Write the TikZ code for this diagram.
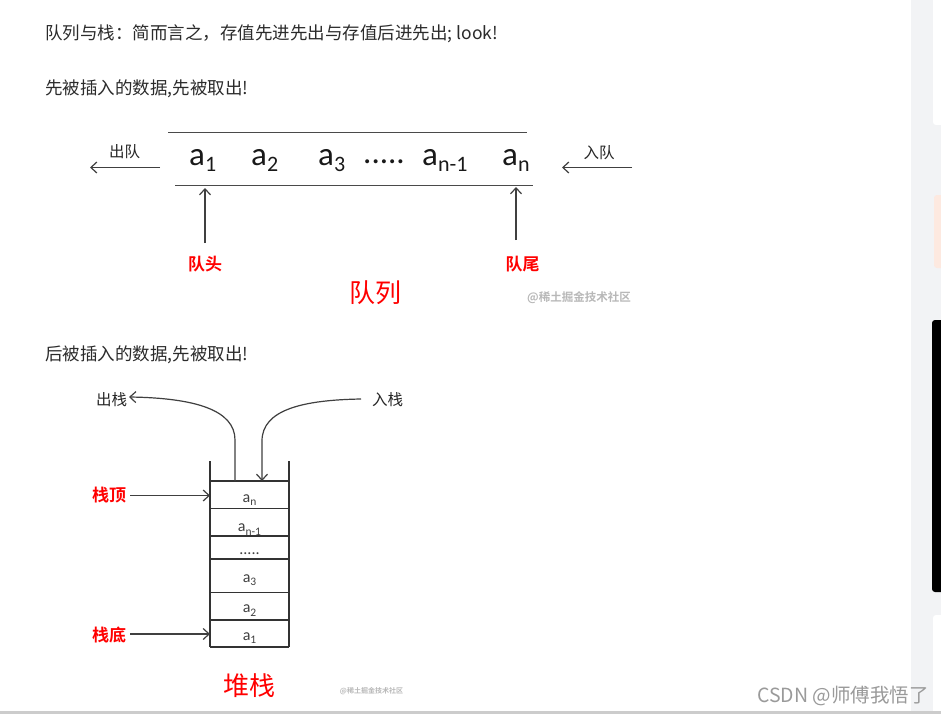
\documentclass[tikz,border=0pt]{standalone}
\usepackage{fontspec}
\usetikzlibrary{arrows.meta}
\newfontfamily\cjk[BoldFont={Noto Sans CJK SC Bold}]{Noto Sans CJK SC}
\newfontfamily\calf{Carlito}
\definecolor{txt}{HTML}{2B2B2B}
\definecolor{ln}{HTML}{4A4A4A}
\definecolor{strip}{HTML}{F2F3F5}
\definecolor{pinkbox}{HTML}{FDE9E0}
\definecolor{wm}{HTML}{B8B8B8}
\definecolor{csdn}{HTML}{9A9A9A}
\newcommand\qsub[1]{\raisebox{-6pt}{\fontsize{22}{22}\selectfont #1}}
\newcommand\ssub[1]{\raisebox{-3.5pt}{\fontsize{11.5}{11.5}\selectfont #1}}
\tikzset{
  hdr/.style={anchor=base west, inner sep=0pt, text=txt, font=\cjk\fontsize{17.5}{20}\selectfont},
  lbl/.style={inner sep=0pt, text=black!85, font=\cjk\fontsize{15.5}{18}\selectfont},
  redlbl/.style={inner sep=0pt, text=red, font=\cjk\bfseries\fontsize{17}{20}\selectfont},
  bigred/.style={inner sep=0pt, text=red, font=\cjk\fontsize{26}{30}\selectfont},
  qel/.style={anchor=base west, inner sep=0pt, text=black!90, font=\calf\fontsize{33}{36}\selectfont},
  sel/.style={anchor=base, inner sep=0pt, text=black!75, font=\calf\fontsize{16}{18}\selectfont},
  wmark/.style={inner sep=0pt, text=wm, font=\cjk\bfseries},
  qline/.style={draw=ln, line width=1.4pt},
  sline/.style={draw=black!80, line width=1.2pt},
  arr/.style={draw=black!75, line width=1.2pt, -{Straight Barb[length=6pt,width=11pt]}},
}
\begin{document}
\begin{tikzpicture}[x=1pt,y=-1pt]
\useasboundingbox (0,0) rectangle (941,714);
\fill[white] (0,0) rectangle (941,714);
% right strip
\fill[strip] (911,0) rectangle (941,714);
\fill[white, rounded corners=3pt] (933,-5) rectangle (945,125);
\fill[pinkbox, rounded corners=3pt] (934,195) rectangle (945,268);
\fill[black, rounded corners=3pt] (932,320) rectangle (945,592);
\fill[white, rounded corners=3pt] (933,615) rectangle (945,720);
\fill[black!20] (0,711) rectangle (941,714);

% headers
\node[hdr] (h1) at (45,39.5) {队列与栈：简而言之，存值先进先出与存值后进先出; look!};
\node[hdr] (h2) at (45,95) {先被插入的数据,先被取出!};
\node[hdr] (h3) at (45,360) {后被插入的数据,先被取出!};

% ---------------- queue ----------------
\coordinate (qt1) at (168,132.5);
\coordinate (qt2) at (527,132.5);
\coordinate (qb1) at (175,185.5);
\coordinate (qb2) at (533,185.5);
\draw[qline] (qt1) -- (qt2);
\draw[qline] (qb1) -- (qb2);

\node[qel] (e1) at (189,165) {a\qsub{1}};
\node[qel] (e2) at (251,165) {a\qsub{2}};
\node[qel] (e3) at (318,165) {a\qsub{3}};
\node[qel] (ed) at (363,164) {.....};
\node[qel] (en1) at (422,165) {a\qsub{n-1}};
\node[qel] (en) at (502,165) {a\qsub{n}};

\node[lbl] (deq) at (124.5,152) {出队};
\node[lbl] (enq) at (599,153) {入队};
\coordinate (deqs) at (160,167.5);
\coordinate (deqe) at (90,167.5);
\coordinate (enqs) at (632,167.5);
\coordinate (enqe) at (562,167.5);
\draw[arr] (deqs) -- (deqe);
\draw[arr] (enqs) -- (enqe);

\node[redlbl] (head) at (205,264.5) {队头};
\node[redlbl] (tail) at (522.5,264.5) {队尾};
\coordinate (hs) at (205,243);
\coordinate (he) at (205,188);
\coordinate (ts) at (516,240);
\coordinate (te) at (516,187);
\draw[arr] (hs) -- (he);
\draw[arr] (ts) -- (te);

\node[bigred] (qtitle) at (375,293) {队列};
\node[wmark, font=\cjk\bfseries\fontsize{11.5}{13}\selectfont] (wm1) at (579,297.5) {@稀土掘金技术社区};

% ---------------- stack ----------------
\coordinate (wl1) at (210,461);
\coordinate (wl2) at (210,647);
\coordinate (wr1) at (289,461);
\coordinate (wr2) at (289,647);
\draw[sline] (wl1) -- (wl2);
\draw[sline] (wr1) -- (wr2);
\foreach \yy in {481,508.5,536,559,592.5,620,647}{
  \draw[sline] (210,\yy) -- (289,\yy);
}
\node[sel] (sn) at (249.5,502) {a\ssub{n}};
\node[sel] (sn1) at (249.5,531.5) {a\ssub{n-1}};
\node[sel] (sd) at (249.5,554) {.....};
\node[sel] (s3) at (249.5,582) {a\ssub{3}};
\node[sel] (s2) at (249.5,612.5) {a\ssub{2}};
\node[sel] (s1) at (249.5,640) {a\ssub{1}};

\node[lbl] (pop) at (111.5,400) {出栈};
\node[lbl] (push) at (387.5,400) {入栈};
\coordinate (pops) at (235,481);
\coordinate (popm) at (235,440);
\coordinate (pope) at (129,397);
\coordinate (pushs) at (361,399);
\coordinate (pushm) at (262,441);
\coordinate (pushe) at (262,481);
\draw[arr] (pops) -- (popm) .. controls (235,410) and (195,398) .. (pope);
\draw[arr] (pushs) .. controls (302,400) and (262,410) .. (pushm) -- (pushe);

\node[redlbl] (top) at (109,495) {栈顶};
\node[redlbl] (bot) at (109,635) {栈底};
\coordinate (tops) at (130,495.5);
\coordinate (tope) at (210,495.5);
\coordinate (bots) at (130,634);
\coordinate (bote) at (210,634);
\draw[arr] (tops) -- (tope);
\draw[arr] (bots) -- (bote);

\node[bigred] (stitle) at (249,686) {堆栈};
\node[wmark, font=\cjk\bfseries\fontsize{7}{8}\selectfont] (wm2) at (371.5,691) {@稀土掘金技术社区};

\node[anchor=west, inner sep=0pt, text=csdn, font=\cjk\fontsize{19.5}{22}\selectfont] (csdn) at (757,695.5) {CSDN @师傅我悟了};
\end{tikzpicture}
\end{document}
